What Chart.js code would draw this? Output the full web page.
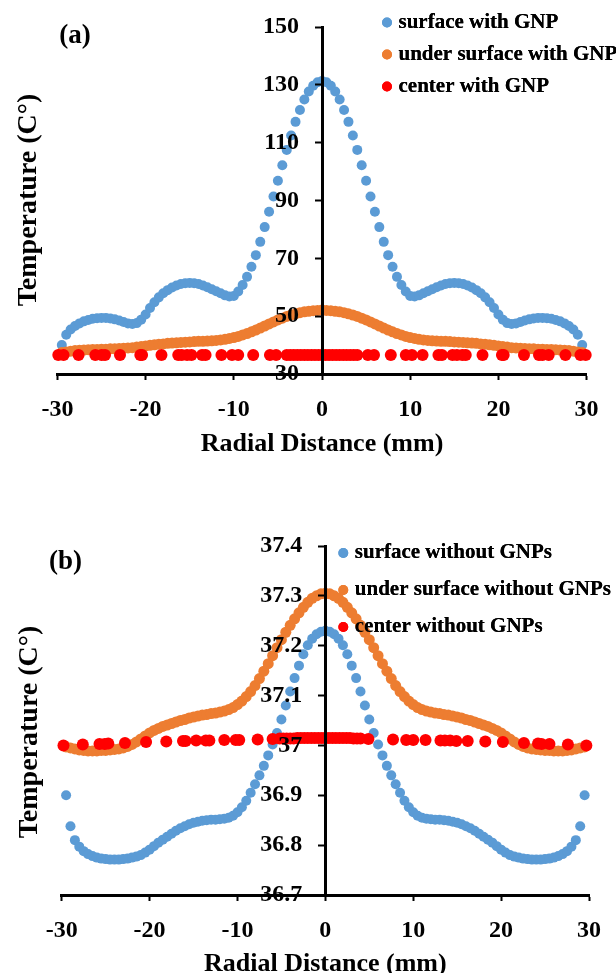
<!DOCTYPE html>
<html>
<head>
<meta charset="utf-8">
<title>Radial temperature profiles</title>
<script src="https://cdn.jsdelivr.net/npm/chart.js@4.4.0/dist/chart.umd.min.js"></script>
<style>
  html, body { margin: 0; padding: 0; background: #fff; width: 616px; height: 973px; overflow: hidden; }
  .panel { position: absolute; left: 0; width: 616px; }
</style>
</head>
<body>
<div class="panel" style="top:0"><canvas id="chartA" width="616" height="480"></canvas></div>
<div class="panel" style="top:480px"><canvas id="chartB" width="616" height="510"></canvas></div>
<script>
// ---- data ----
const xTicks = [-30, -20, -10, 0, 10, 20, 30];
const yTicksA = [30, 50, 70, 90, 110, 130, 150];
const yTicksB = [36.7, 36.8, 36.9, 37, 37.1, 37.2, 37.3, 37.4];

// radial positions (mm) of the surface / under-surface nodes
const radialX = [
  -29.5, -29, -28.5, -28, -27.5, -27, -26.5, -26, -25.5, -25, -24.5, -24, -23.5, -23, -22.5, -22, -21.5, -21, -20.5, -20,
  -19.5, -19, -18.5, -18, -17.5, -17, -16.5, -16, -15.5, -15, -14.5, -14, -13.5, -13, -12.5, -12, -11.5, -11, -10.5, -10,
  -9.5, -9, -8.5, -8, -7.5, -7, -6.5, -6, -5.5, -5, -4.5, -4, -3.5, -3, -2.5, -2, -1.5, -1, -0.5, 0,
  0.5, 1, 1.5, 2, 2.5, 3, 3.5, 4, 4.5, 5, 5.5, 6, 6.5, 7, 7.5, 8, 8.5, 9, 9.5, 10,
  10.5, 11, 11.5, 12, 12.5, 13, 13.5, 14, 14.5, 15, 15.5, 16, 16.5, 17, 17.5, 18, 18.5, 19, 19.5, 20,
  20.5, 21, 21.5, 22, 22.5, 23, 23.5, 24, 24.5, 25, 25.5, 26, 26.5, 27, 27.5, 28, 28.5, 29, 29.5
];

// (a) with GNP
const surfaceGNP = [
  40.0, 43.6, 45.4, 46.6, 47.5, 48.2, 48.7, 49.1, 49.3, 49.4, 49.4, 49.2, 48.9, 48.5, 48.0, 47.5, 47.3, 47.6, 48.8, 50.6,
  52.8, 54.8, 56.5, 57.9, 59.0, 59.9, 60.6, 61.1, 61.4, 61.5, 61.4, 61.1, 60.6, 60.0, 59.3, 58.6, 57.9, 57.2, 56.8, 57.0,
  58.5, 60.8, 63.6, 67.1, 71.1, 75.7, 80.8, 86.1, 91.4, 96.8, 102.2, 107.5, 112.5, 117.2, 121.3, 124.9, 127.7, 129.7, 130.9, 131.3,
  130.9, 129.7, 127.7, 124.9, 121.3, 117.2, 112.5, 107.5, 102.2, 96.8, 91.4, 86.1, 80.8, 75.7, 71.1, 67.1, 63.6, 60.8, 58.5, 57.0,
  56.8, 57.2, 57.9, 58.6, 59.3, 60.0, 60.6, 61.1, 61.4, 61.5, 61.4, 61.1, 60.6, 59.9, 59.0, 57.9, 56.5, 54.8, 52.8, 50.6,
  48.8, 47.6, 47.3, 47.5, 48.0, 48.5, 48.9, 49.2, 49.4, 49.4, 49.3, 49.1, 48.7, 48.2, 47.5, 46.6, 45.4, 43.6, 40.0
];
const underGNP = [
  37.4, 37.6, 37.9, 38.1, 38.2, 38.3, 38.4, 38.5, 38.5, 38.6, 38.6, 38.7, 38.7, 38.8, 38.9, 39.0, 39.1, 39.3, 39.5, 39.7,
  39.9, 40.1, 40.3, 40.4, 40.6, 40.7, 40.8, 40.9, 41.0, 41.1, 41.2, 41.3, 41.3, 41.4, 41.5, 41.6, 41.8, 42.0, 42.3, 42.6,
  43.0, 43.5, 44.0, 44.6, 45.2, 45.9, 46.6, 47.3, 48.0, 48.7, 49.3, 49.9, 50.4, 50.8, 51.2, 51.5, 51.7, 51.9, 52.0, 52.1,
  52.0, 51.9, 51.7, 51.5, 51.2, 50.8, 50.4, 49.9, 49.3, 48.7, 48.0, 47.3, 46.6, 45.9, 45.2, 44.6, 44.0, 43.5, 43.0, 42.6,
  42.3, 42.0, 41.8, 41.6, 41.5, 41.4, 41.3, 41.3, 41.2, 41.1, 41.0, 40.9, 40.8, 40.7, 40.6, 40.4, 40.3, 40.1, 39.9, 39.7,
  39.5, 39.3, 39.1, 39.0, 38.9, 38.8, 38.7, 38.7, 38.6, 38.6, 38.5, 38.5, 38.4, 38.3, 38.2, 38.1, 37.9, 37.6, 37.4
];
const centerGNPx = [
  -29.9, -29.3, -27.6, -25.7, -25.0, -24.6, -22.9, -20.6, -20.4, -18.2, -16.3, -15.9, -15.3, -14.8, -13.6, -13.2, -11.4, -10.2, -9.5, -7.8, -5.9, -5.2,
  -4.0, -3.6, -3.2, -2.8, -2.4, -2.0, -1.6, -1.2, -0.8, -0.4, 0, 0.4, 0.8, 1.2, 1.6, 2.0, 2.4, 2.8, 3.2, 3.6, 4.0,
  5.2, 5.9, 7.8, 9.5, 10.2, 11.4, 13.2, 13.6, 14.8, 15.3, 15.9, 16.3, 18.2, 20.4, 20.6, 22.9, 24.6, 25.0, 25.7, 27.6, 29.3, 29.9
];
const centerGNP = [
  36.6, 36.6, 36.6, 36.6, 36.6, 36.6, 36.6, 36.6, 36.6, 36.6, 36.6, 36.6, 36.6, 36.6, 36.6, 36.6, 36.6, 36.6, 36.6, 36.6, 36.6, 36.6,
  36.6, 36.6, 36.6, 36.6, 36.6, 36.6, 36.6, 36.6, 36.6, 36.6, 36.6, 36.6, 36.6, 36.6, 36.6, 36.6, 36.6, 36.6, 36.6, 36.6, 36.6,
  36.6, 36.6, 36.6, 36.6, 36.6, 36.6, 36.6, 36.6, 36.6, 36.6, 36.6, 36.6, 36.6, 36.6, 36.6, 36.6, 36.6, 36.6, 36.6, 36.6, 36.6, 36.6
];

// (b) without GNPs
const surfaceNo = [
  36.900, 36.838, 36.810, 36.797, 36.788, 36.782, 36.778, 36.775, 36.773, 36.772, 36.771, 36.771, 36.771, 36.772, 36.773, 36.775, 36.777, 36.780, 36.785, 36.791,
  36.798, 36.805, 36.811, 36.817, 36.823, 36.829, 36.834, 36.838, 36.842, 36.845, 36.847, 36.849, 36.850, 36.851, 36.851, 36.852, 36.853, 36.855, 36.859, 36.866,
  36.876, 36.889, 36.905, 36.922, 36.940, 36.959, 36.980, 37.002, 37.025, 37.052, 37.080, 37.108, 37.135, 37.160, 37.183, 37.201, 37.214, 37.223, 37.228, 37.230,
  37.228, 37.223, 37.214, 37.201, 37.183, 37.160, 37.135, 37.108, 37.080, 37.052, 37.025, 37.002, 36.980, 36.959, 36.940, 36.922, 36.905, 36.889, 36.876, 36.866,
  36.859, 36.855, 36.853, 36.852, 36.851, 36.851, 36.850, 36.849, 36.847, 36.845, 36.842, 36.838, 36.834, 36.829, 36.823, 36.817, 36.811, 36.805, 36.798, 36.791,
  36.785, 36.780, 36.777, 36.775, 36.773, 36.772, 36.771, 36.771, 36.771, 36.772, 36.773, 36.775, 36.778, 36.782, 36.788, 36.797, 36.810, 36.838, 36.900
];
const underNo = [
  36.997, 36.995, 36.993, 36.991, 36.990, 36.989, 36.989, 36.989, 36.990, 36.990, 36.991, 36.992, 36.993, 36.995, 36.998, 37.002, 37.007, 37.013, 37.019, 37.025,
  37.030, 37.034, 37.038, 37.041, 37.044, 37.047, 37.050, 37.052, 37.055, 37.057, 37.059, 37.061, 37.062, 37.064, 37.065, 37.067, 37.069, 37.072, 37.076, 37.082,
  37.089, 37.098, 37.108, 37.120, 37.134, 37.149, 37.164, 37.180, 37.196, 37.212, 37.227, 37.241, 37.254, 37.266, 37.277, 37.287, 37.295, 37.300, 37.304, 37.305,
  37.304, 37.300, 37.295, 37.287, 37.277, 37.266, 37.254, 37.241, 37.227, 37.212, 37.196, 37.180, 37.164, 37.149, 37.134, 37.120, 37.108, 37.098, 37.089, 37.082,
  37.076, 37.072, 37.069, 37.067, 37.065, 37.064, 37.062, 37.061, 37.059, 37.057, 37.055, 37.052, 37.050, 37.047, 37.044, 37.041, 37.038, 37.034, 37.030, 37.025,
  37.019, 37.013, 37.007, 37.002, 36.998, 36.995, 36.993, 36.992, 36.991, 36.990, 36.990, 36.989, 36.989, 36.989, 36.990, 36.991, 36.993, 36.995, 36.997
];
const centerNoX = [
  -29.8, -27.6, -25.7, -25.1, -24.7, -22.8, -20.4, -18.1, -16.2, -15.9, -14.7, -13.6, -13.2, -11.5, -10.2, -9.8, -7.7, -6.0,
  -5.2, -4.8, -4.4, -4.0, -3.6, -3.2, -2.8, -2.4, -2.0, -1.6, -1.2, -0.8, -0.4, 0, 0.4, 0.8, 1.2, 1.6, 2.0, 2.4, 2.8, 3.2, 3.6, 4.0,
  4.9, 7.7, 9.2, 10.0, 11.4, 13.1, 13.6, 14.2, 14.9, 16.2, 18.2, 20.2, 22.6, 24.2, 24.6, 25.5, 27.6, 29.7
];
const centerNo = [
  37.000, 37.002, 37.003, 37.003, 37.004, 37.005, 37.007, 37.008, 37.009, 37.009, 37.010, 37.010, 37.010, 37.011, 37.011, 37.011, 37.012, 37.013,
  37.014, 37.014, 37.014, 37.014, 37.014, 37.015, 37.015, 37.015, 37.015, 37.015, 37.015, 37.015, 37.015, 37.015, 37.015, 37.015, 37.015, 37.015, 37.015, 37.015, 37.015, 37.014, 37.014, 37.014,
  37.013, 37.012, 37.011, 37.011, 37.011, 37.010, 37.010, 37.010, 37.009, 37.009, 37.008, 37.007, 37.005, 37.004, 37.003, 37.003, 37.002, 37.000
];

// ---- styling ----
const serif = "'Liberation Serif', 'Times New Roman', serif";
const BLUE = '#5B9BD5', ORANGE = '#ED7D31', RED = '#FF0000';

const pts = (xs, ys) => xs.map((x, i) => ({ x, y: ys[i] }));

// move the built-in legend to where the figure has it (overlapping the plot),
// and paint it once more over the points so the text stays on top
const legendSpot = {
  id: 'legendSpot',
  afterLayout(chart, args, opts) {
    const lg = chart.legend;
    lg.left = opts.left;
    lg.top = opts.top;
    lg.right = chart.width;
    lg.bottom = chart.height;
  },
  afterDatasetsDraw(chart) {
    chart.legend.draw(chart.chartArea);
  }
};

// a y axis placed at x = 0 draws its labels right on the line; push them left of the tick marks
const yLabelGap = {
  id: 'yLabelGap',
  beforeDraw(chart, args, opts) {
    const y = chart.scales.y;
    const items = y.getLabelItems();
    if (items._moved) return;
    items.forEach(it => { it.options.translation[0] -= opts.gap; });
    items._moved = true;
  }
};

// far-left rotated axis title and the panel letter
const sideText = {
  id: 'sideText',
  afterDraw(chart, args, opts) {
    const ctx = chart.ctx;
    ctx.save();
    ctx.fillStyle = '#000';
    ctx.textAlign = 'center';
    ctx.textBaseline = 'middle';
    ctx.font = 'bold 27px ' + serif;
    ctx.fillText(opts.panel, opts.panelX, opts.panelY);
    ctx.translate(opts.titleX, opts.titleY);
    ctx.rotate(-Math.PI / 2);
    ctx.font = 'bold 28px ' + serif;
    ctx.fillText('Temperature (C\u00B0)', 0, 0);
    ctx.restore();
  }
};

function makeChart(id, cfg) {
  const tickFont = { family: serif, size: 24, weight: 'bold' };
  return new Chart(document.getElementById(id), {
    type: 'scatter',
    data: {
      datasets: [
        { label: cfg.labels[0], data: pts(radialX, cfg.surface), backgroundColor: BLUE, borderColor: BLUE, pointRadius: 5, pointBorderWidth: 0, order: 3, clip: false },
        { label: cfg.labels[1], data: pts(radialX, cfg.under), backgroundColor: ORANGE, borderColor: ORANGE, pointRadius: 5.5, pointBorderWidth: 0, order: 2, clip: false },
        { label: cfg.labels[2], data: pts(cfg.centerX, cfg.center), backgroundColor: RED, borderColor: RED, pointRadius: 6, pointBorderWidth: 0, order: 1, clip: false }
      ]
    },
    options: {
      responsive: false,
      animation: false,
      events: [],
      layout: { padding: cfg.padding },
      plugins: {
        tooltip: { enabled: false },
        legend: {
          position: 'chartArea',
          align: 'start',
          labels: {
            usePointStyle: true,
            boxWidth: 2,
            boxHeight: 7,
            padding: cfg.legendPad,
            color: '#000',
            font: { family: serif, size: 21, weight: 'bold' },
            sort: (a, b) => a.datasetIndex - b.datasetIndex
          }
        },
        legendSpot: cfg.legendSpot,
        yLabelGap: { gap: 23 },
        sideText: cfg.side
      },
      scales: {
        x: {
          type: 'linear',
          min: -30,
          max: 30,
          afterBuildTicks: s => { s.ticks = xTicks.map(v => ({ value: v })); },
          afterFit: s => { s.height = cfg.xHeight; },
          grid: { drawOnChartArea: false, tickLength: 6, tickWidth: 2, tickColor: '#000' },
          border: { color: '#000', width: 3 },
          ticks: { color: '#000', font: tickFont, padding: 15, maxRotation: 0 },
          title: { display: true, text: 'Radial Distance (mm)', color: '#000', font: { family: serif, size: 26, weight: 'bold' }, padding: { top: 0, bottom: 2 } }
        },
        y: {
          type: 'linear',
          position: { x: 0 },
          min: cfg.yTicks[0],
          max: cfg.yTicks[cfg.yTicks.length - 1],
          afterBuildTicks: s => { s.ticks = cfg.yTicks.map(v => ({ value: v })); },
          grid: { drawOnChartArea: false, tickLength: 6, tickWidth: 2, tickColor: '#000', z: 1 },
          border: { color: '#000', width: 3, z: 1 },
          ticks: { color: '#000', font: tickFont, z: 1, callback: v => String(+Number(v).toFixed(1)) }
        }
      }
    },
    plugins: [legendSpot, yLabelGap, sideText]
  });
}

// (a) with GNP
makeChart('chartA', {
  labels: ['surface with GNP', 'under surface with GNP', 'center with GNP'],
  surface: surfaceGNP, under: underGNP, centerX: centerGNPx, center: centerGNP,
  yTicks: yTicksA,
  padding: { left: 57.4, right: 29.4, top: 27, bottom: 18.4 },
  xHeight: 87.6,
  legendPad: 11,
  legendSpot: { left: 375, top: 1 },
  side: { panel: '(a)', panelX: 75, panelY: 36, titleX: 29, titleY: 200 }
});

// (b) without GNPs
makeChart('chartB', {
  labels: ['surface without GNPs', 'under surface without GNPs', 'center without GNPs'],
  surface: surfaceNo, under: underNo, centerX: centerNoX, center: centerNo,
  yTicks: yTicksB,
  padding: { left: 61.7, right: 24.3, top: 66, bottom: 8.4 },
  xHeight: 86.6,
  legendPad: 16,
  legendSpot: { left: 326.3, top: 46.5 },
  side: { panel: '(b)', panelX: 65.5, panelY: 82.5, titleX: 30, titleY: 252 }
});
</script>
</body>
</html>
